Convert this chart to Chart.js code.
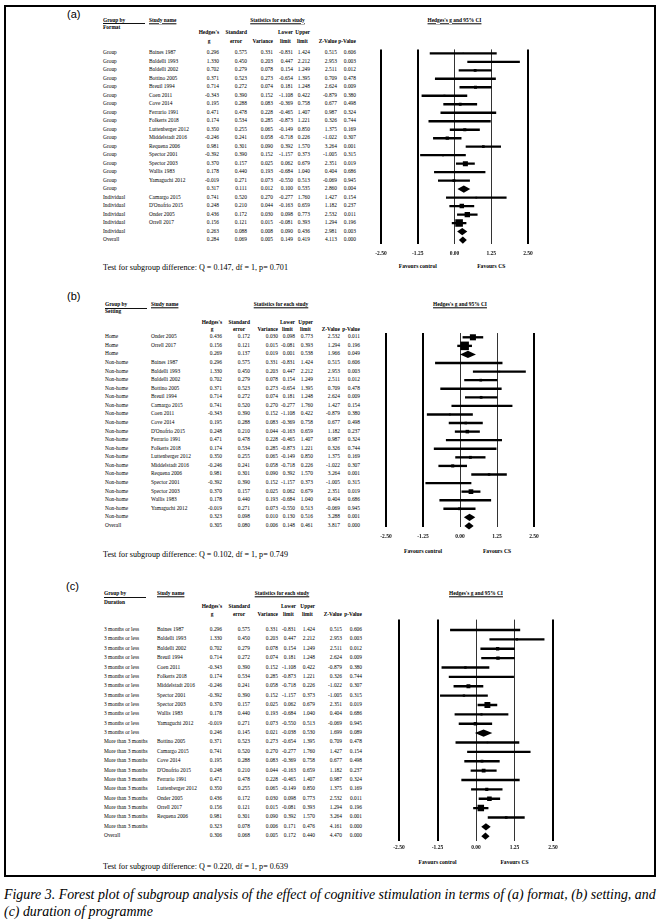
<!DOCTYPE html>
<html>
<head>
<meta charset="utf-8">
<script src="https://cdn.jsdelivr.net/npm/chart.js@4.4.1/dist/chart.umd.min.js"></script>
<style>
html, body { margin: 0; padding: 0; background: #fff; }
#page { position: relative; width: 661px; height: 920px; overflow: hidden; background: #fff;
        font-family: 'Liberation Serif', 'Times New Roman', serif; color: #000; }
.t { position: absolute; white-space: nowrap; line-height: 1; }
.ln { position: absolute; background: #111; }
.frame { position: absolute; left: 4px; top: 5px; width: 652px; height: 872px; border: 2px solid #000; box-sizing: border-box; }
canvas { position: absolute; }
</style>
</head>
<body>
<div id="page"><div class="frame"></div></div>
<script>
// x axis of every forest plot
const X_TICKS = [-2.5, -1.25, 0, 1.25, 2.5];
const COL_HEAD = [["Hedges's", 'g'], ['Standard', 'error'], ['', 'Variance'], ['Lower', 'limit'], ['Upper', 'limit'], ['', 'Z-Value'], ['', 'p-Value']];

// (a) format
const A_GROUP = ['Group', 'Group', 'Group', 'Group', 'Group', 'Group', 'Group', 'Group', 'Group', 'Group', 'Group', 'Group', 'Group', 'Group', 'Group', 'Group', 'Group',
    'Individual', 'Individual', 'Individual', 'Individual', 'Individual', 'Overall'];
const A_STUDY = ['Baines 1987', 'Baldelli 1993', 'Baldelli 2002', 'Bottino 2005', 'Breuil 1994', 'Coen 2011', 'Cove 2014', 'Ferrario 1991', 'Folkerts 2018',
    'Luttenberger 2012', 'Middelstadt 2016', 'Requena 2006', 'Spector 2001', 'Spector 2003', 'Wallis 1983', 'Yamaguchi 2012', '',
    'Camargo 2015', "D'Onofrio 2015", 'Onder 2005', 'Orrell 2017', '', ''];
const A_G = [0.296, 1.330, 0.702, 0.371, 0.714, -0.343, 0.195, 0.471, 0.174, 0.350, -0.246, 0.981, -0.392, 0.370, 0.178, -0.019, 0.317, 0.741, 0.248, 0.436, 0.156, 0.263, 0.284];
const A_SE = [0.575, 0.450, 0.279, 0.523, 0.272, 0.390, 0.288, 0.478, 0.534, 0.255, 0.241, 0.301, 0.390, 0.157, 0.440, 0.271, 0.111, 0.520, 0.210, 0.172, 0.121, 0.088, 0.069];
const A_VAR = [0.331, 0.203, 0.078, 0.273, 0.074, 0.152, 0.083, 0.228, 0.285, 0.065, 0.058, 0.090, 0.152, 0.025, 0.193, 0.073, 0.012, 0.270, 0.044, 0.030, 0.015, 0.008, 0.005];
const A_LO = [-0.831, 0.447, 0.154, -0.654, 0.181, -1.108, -0.369, -0.465, -0.873, -0.149, -0.718, 0.392, -1.157, 0.062, -0.684, -0.550, 0.100, -0.277, -0.163, 0.098, -0.081, 0.090, 0.149];
const A_HI = [1.424, 2.212, 1.249, 1.395, 1.248, 0.422, 0.758, 1.407, 1.221, 0.850, 0.226, 1.570, 0.373, 0.679, 1.040, 0.513, 0.535, 1.760, 0.659, 0.773, 0.393, 0.436, 0.419];
const A_Z = [0.515, 2.953, 2.511, 0.709, 2.624, -0.879, 0.677, 0.987, 0.326, 1.375, -1.022, 3.264, -1.005, 2.351, 0.404, -0.069, 2.860, 1.427, 1.182, 2.532, 1.294, 2.981, 4.113];
const A_P = [0.606, 0.003, 0.012, 0.478, 0.009, 0.380, 0.498, 0.324, 0.744, 0.169, 0.307, 0.001, 0.315, 0.019, 0.686, 0.945, 0.004, 0.154, 0.237, 0.011, 0.196, 0.003, 0.000];

// (b) setting
const B_GROUP = ['Home', 'Home', 'Home', 'Non-home', 'Non-home', 'Non-home', 'Non-home', 'Non-home', 'Non-home', 'Non-home', 'Non-home', 'Non-home', 'Non-home',
    'Non-home', 'Non-home', 'Non-home', 'Non-home', 'Non-home', 'Non-home', 'Non-home', 'Non-home', 'Non-home', 'Overall'];
const B_STUDY = ['Onder 2005', 'Orrell 2017', '', 'Baines 1987', 'Baldelli 1993', 'Baldelli 2002', 'Bottino 2005', 'Breuil 1994', 'Camargo 2015', 'Coen 2011',
    'Cove 2014', "D'Onofrio 2015", 'Ferrario 1991', 'Folkerts 2018', 'Luttenberger 2012', 'Middelstadt 2016', 'Requena 2006', 'Spector 2001', 'Spector 2003',
    'Wallis 1983', 'Yamaguchi 2012', '', ''];
const B_G = [0.436, 0.156, 0.269, 0.296, 1.330, 0.702, 0.371, 0.714, 0.741, -0.343, 0.195, 0.248, 0.471, 0.174, 0.350, -0.246, 0.981, -0.392, 0.370, 0.178, -0.019, 0.323, 0.305];
const B_SE = [0.172, 0.121, 0.137, 0.575, 0.450, 0.279, 0.523, 0.272, 0.520, 0.390, 0.288, 0.210, 0.478, 0.534, 0.255, 0.241, 0.301, 0.390, 0.157, 0.440, 0.271, 0.098, 0.080];
const B_VAR = [0.030, 0.015, 0.019, 0.331, 0.203, 0.078, 0.273, 0.074, 0.270, 0.152, 0.083, 0.044, 0.228, 0.285, 0.065, 0.058, 0.090, 0.152, 0.025, 0.193, 0.073, 0.010, 0.006];
const B_LO = [0.098, -0.081, 0.001, -0.831, 0.447, 0.154, -0.654, 0.181, -0.277, -1.108, -0.369, -0.163, -0.465, -0.873, -0.149, -0.718, 0.392, -1.157, 0.062, -0.684, -0.550, 0.130, 0.148];
const B_HI = [0.773, 0.393, 0.538, 1.424, 2.212, 1.249, 1.395, 1.248, 1.760, 0.422, 0.758, 0.659, 1.407, 1.221, 0.850, 0.226, 1.570, 0.373, 0.679, 1.040, 0.513, 0.516, 0.461];
const B_Z = [2.532, 1.294, 1.966, 0.515, 2.953, 2.511, 0.709, 2.624, 1.427, -0.879, 0.677, 1.182, 0.987, 0.326, 1.375, -1.022, 3.264, -1.005, 2.351, 0.404, -0.069, 3.288, 3.817];
const B_P = [0.011, 0.196, 0.049, 0.606, 0.003, 0.012, 0.478, 0.009, 0.154, 0.380, 0.498, 0.237, 0.324, 0.744, 0.169, 0.307, 0.001, 0.315, 0.019, 0.686, 0.945, 0.001, 0.000];

// (c) duration
const C_GROUP = ['3 months or less', '3 months or less', '3 months or less', '3 months or less', '3 months or less', '3 months or less', '3 months or less',
    '3 months or less', '3 months or less', '3 months or less', '3 months or less', '3 months or less',
    'More than 3 months', 'More than 3 months', 'More than 3 months', 'More than 3 months', 'More than 3 months', 'More than 3 months',
    'More than 3 months', 'More than 3 months', 'More than 3 months', 'More than 3 months', 'Overall'];
const C_STUDY = ['Baines 1987', 'Baldelli 1993', 'Baldelli 2002', 'Breuil 1994', 'Coen 2011', 'Folkerts 2018', 'Middelstadt 2016', 'Spector 2001', 'Spector 2003',
    'Wallis 1983', 'Yamaguchi 2012', '', 'Bottino 2005', 'Camargo 2015', 'Cove 2014', "D'Onofrio 2015", 'Ferrario 1991', 'Luttenberger 2012', 'Onder 2005',
    'Orrell 2017', 'Requena 2006', '', ''];
const C_G = [0.296, 1.330, 0.702, 0.714, -0.343, 0.174, -0.246, -0.392, 0.370, 0.178, -0.019, 0.246, 0.371, 0.741, 0.195, 0.248, 0.471, 0.350, 0.436, 0.156, 0.981, 0.323, 0.306];
const C_SE = [0.575, 0.450, 0.279, 0.272, 0.390, 0.534, 0.241, 0.390, 0.157, 0.440, 0.271, 0.145, 0.523, 0.520, 0.288, 0.210, 0.478, 0.255, 0.172, 0.121, 0.301, 0.078, 0.068];
const C_VAR = [0.331, 0.203, 0.078, 0.074, 0.152, 0.285, 0.058, 0.152, 0.025, 0.193, 0.073, 0.021, 0.273, 0.270, 0.083, 0.044, 0.228, 0.065, 0.030, 0.015, 0.090, 0.006, 0.005];
const C_LO = [-0.831, 0.447, 0.154, 0.181, -1.108, -0.873, -0.718, -1.157, 0.062, -0.684, -0.550, -0.038, -0.654, -0.277, -0.369, -0.163, -0.465, -0.149, 0.098, -0.081, 0.392, 0.171, 0.172];
const C_HI = [1.424, 2.212, 1.249, 1.248, 0.422, 1.221, 0.226, 0.373, 0.679, 1.040, 0.513, 0.530, 1.395, 1.760, 0.758, 0.659, 1.407, 0.850, 0.773, 0.393, 1.570, 0.476, 0.440];
const C_Z = [0.515, 2.953, 2.511, 2.624, -0.879, 0.326, -1.022, -1.005, 2.351, 0.404, -0.069, 1.699, 0.709, 1.427, 0.677, 1.182, 0.987, 1.375, 2.532, 1.294, 3.264, 4.161, 4.470];
const C_P = [0.606, 0.003, 0.012, 0.009, 0.380, 0.744, 0.307, 0.315, 0.019, 0.686, 0.945, 0.089, 0.478, 0.154, 0.498, 0.237, 0.324, 0.169, 0.011, 0.196, 0.001, 0.000, 0.000];

const PANELS = [
    { label: '(a)', labelX: 67, labelY: 14, sub: 'Format', test: 'Test for subgroup difference: Q = 0.147, df = 1, p= 0.701',
      group: A_GROUP, study: A_STUDY, cols: [A_G, A_SE, A_VAR, A_LO, A_HI, A_Z, A_P],
      xLeft: 381, xRight: 528, gridTop: 47, gridBottom: 244, row0: 51, step: 8.59, tickPad: 6, favY: 267, testY: 268,
      hy: [20.5, 28, 32.5, 41.5], colX: [103, 149], colR: [219, 247, 273, 293, 310, 337, 356] },
    { label: '(b)', labelX: 67, labelY: 296, sub: 'Setting', test: 'Test for subgroup difference: Q = 0.102, df = 1, p= 0.749',
      group: B_GROUP, study: B_STUDY, cols: [B_G, B_SE, B_VAR, B_LO, B_HI, B_Z, B_P],
      xLeft: 386, xRight: 534, gridTop: 330, gridBottom: 527, row0: 334.3, step: 8.71, tickPad: 6, favY: 552, testY: 555,
      hy: [305, 311.5, 322.5, 329.5], colX: [105, 151], colR: [222, 250, 278, 295, 313, 340, 360] },
    { label: '(c)', labelX: 66, labelY: 586, sub: 'Duration', test: 'Test for subgroup difference: Q = 0.220, df = 1, p= 0.639',
      group: C_GROUP, study: C_STUDY, cols: [C_G, C_SE, C_VAR, C_LO, C_HI, C_Z, C_P],
      xLeft: 399, xRight: 553, gridTop: 618, gridBottom: 841, row0: 628.5, step: 9.44, tickPad: 3, favY: 863, testY: 867,
      hy: [594, 602.5, 607, 615], colX: [104, 157], colR: [222, 250, 278, 296, 315, 342, 362] }
];

const page = document.getElementById('page');
const TABLE_SIZE = 5.4;

function txt(str, x, y, o = {}) {
    const d = document.createElement('div');
    d.className = 't';
    d.textContent = str;
    d.style.left = x + 'px';
    d.style.top = y + 'px';
    d.style.fontSize = (o.size || TABLE_SIZE) + 'px';
    if (o.bold) d.style.fontWeight = 'bold';
    if (o.italic) d.style.fontStyle = 'italic';
    if (o.family) d.style.fontFamily = o.family;
    if (o.underline) d.style.textDecoration = 'underline';
    const ax = o.align === 'right' ? '-100%' : o.align === 'center' ? '-50%' : '0';
    d.style.transform = `translate(${ax},-50%)`;
    page.appendChild(d);
    return d;
}

function hline(x1, x2, y) {
    const d = document.createElement('div');
    d.className = 'ln';
    d.style.cssText = `left:${x1}px;top:${y}px;width:${x2 - x1}px;height:0.8px`;
    page.appendChild(d);
}

function buildPanel(P) {
    const [G, SE, VAR, LO, HI] = P.cols;
    const n = P.study.length;
    const padX = 14, padTop = 3, axisH = 14;
    const cw = P.xRight - P.xLeft + 2 * padX;
    const ch = P.gridBottom - P.gridTop + padTop + axisH;
    const ox = P.xLeft - padX, oy = P.gridTop - padTop;

    const cv = document.createElement('canvas');
    cv.width = cw;
    cv.height = ch;
    cv.style.left = ox + 'px';
    cv.style.top = oy + 'px';
    page.appendChild(cv);

    // square size follows the study's share of the inverse-variance weight in its subgroup
    const wt = VAR.map((v, i) => P.study[i] ? 1 / v : 0);
    const tot = {};
    P.group.forEach((g, i) => { tot[g] = (tot[g] || 0) + wt[i]; });

    const studyIdx = [...Array(n).keys()].filter(i => P.study[i] !== '');
    const sumIdx = [...Array(n).keys()].filter(i => P.study[i] === '');

    const ciData = studyIdx.map(i => ({ y: i, x: [LO[i], HI[i]] }));
    const ptData = studyIdx.map(i => ({ x: G[i], y: i }));
    const radii = studyIdx.map(i => Math.max(0.9, 10.5 * Math.sqrt(wt[i] / tot[P.group[i]]) / Math.SQRT2));

    const diamonds = {
        id: 'diamonds',
        afterDatasetsDraw(chart) {
            const { ctx, scales: { x, y } } = chart;
            ctx.save();
            ctx.fillStyle = '#000';
            sumIdx.forEach(i => {
                const py = y.getPixelForValue(i);
                ctx.beginPath();
                ctx.moveTo(x.getPixelForValue(LO[i]), py);
                ctx.lineTo(x.getPixelForValue(G[i]), py - 3.6);
                ctx.lineTo(x.getPixelForValue(HI[i]), py);
                ctx.lineTo(x.getPixelForValue(G[i]), py + 3.6);
                ctx.closePath();
                ctx.fill();
            });
            ctx.restore();
        }
    };

    const chart = new Chart(cv, {
        type: 'bar',
        data: {
            datasets: [
                { type: 'bar', indexAxis: 'y', data: ciData, backgroundColor: '#000', barThickness: 1.7, borderWidth: 0 },
                { type: 'scatter', indexAxis: 'x', data: ptData, pointStyle: 'rect', pointRadius: radii, backgroundColor: '#000', borderWidth: 0 }
            ]
        },
        options: {
            indexAxis: 'y',
            responsive: false,
            animation: false,
            devicePixelRatio: 1,
            layout: { padding: { left: padX, right: padX, top: padTop, bottom: 0 } },
            plugins: { legend: { display: false }, tooltip: { enabled: false } },
            scales: {
                x: {
                    type: 'linear', position: 'bottom', min: -2.5, max: 2.5,
                    border: { display: false },
                    grid: {
                        drawTicks: false,
                        color: c => (c.tick && (c.tick.value === 0 || c.tick.value === 1.25)) ? '#333' : '#000',
                        lineWidth: c => (c.tick && (c.tick.value === 0 || c.tick.value === 1.25)) ? 1 : 2
                    },
                    afterBuildTicks: s => { s.ticks = X_TICKS.map(v => ({ value: v })); },
                    afterFit: s => { s.height = axisH; },
                    ticks: {
                        padding: P.tickPad, color: '#111', maxRotation: 0, autoSkip: false,
                        font: { family: 'Liberation Serif', size: 5.5, weight: 'bold' },
                        callback: v => Number(v).toFixed(2)
                    }
                },
                y: {
                    type: 'linear', display: false, reverse: true, offset: false,
                    min: -(P.row0 - P.gridTop) / P.step,
                    max: (P.gridBottom - P.row0) / P.step
                }
            }
        },
        plugins: [diamonds]
    });

    const xs = chart.scales.x, ys = chart.scales.y;
    const rowY = i => oy + ys.getPixelForValue(i);
    const xPx = v => ox + xs.getPixelForValue(v);

    // panel label and headers
    txt(P.label, P.labelX, P.labelY, { size: 11, family: "'Liberation Sans', Arial, sans-serif" });
    const [hGroup, hSub, hL1, hL2] = P.hy;
    txt('Group by', P.colX[0], hGroup, { bold: true });
    hline(P.colX[0], P.colX[0] + 42, hGroup + 2.6);
    txt(P.sub, P.colX[0], hSub, { bold: true });
    txt('Study name', P.colX[1], hGroup, { bold: true, underline: true });
    const statsL = P.colR[0] - 24, statsR = P.colR[6];
    txt('Statistics for each study', (statsL + statsR) / 2 + 2, hGroup, { bold: true, underline: true, align: 'center' });
    COL_HEAD.forEach(([l1, l2], k) => {
        const r = P.colR[k];
        if (l1) {
            const d = txt(l1, r, hL1, { bold: true, align: 'right' });
            txt(l2, r - d.offsetWidth / 2, hL2, { bold: true, align: 'center' });
        } else {
            txt(l2, r, hL2, { bold: true, align: 'right' });
        }
    });

    // table rows, placed on the chart's own row scale
    for (let i = 0; i < n; i++) {
        const y = rowY(i);
        txt(P.group[i], P.colX[0], y);
        if (P.study[i]) txt(P.study[i], P.colX[1], y);
        P.cols.forEach((arr, k) => txt(arr[i].toFixed(3), P.colR[k], y, { align: 'right' }));
    }

    // plot title and favours labels
    txt("Hedges's g and 95% CI", xPx(0), hGroup, { bold: true, underline: true, align: 'center' });
    txt('Favours control', xPx(-1.25), P.favY, { bold: true, size: 5.6, align: 'center' });
    txt('Favours CS', xPx(1.25), P.favY, { bold: true, size: 5.6, align: 'center' });

    txt(P.test, 103, P.testY, { size: 8.1 });
}

PANELS.forEach(buildPanel);

txt('Figure 3.  Forest plot of subgroup analysis of the effect of cognitive stimulation in terms of (a) format, (b) setting, and', 4, 895, { size: 13.9, italic: true });
txt('(c) duration of programme', 4, 912, { size: 13.9, italic: true });
</script>
</body>
</html>
